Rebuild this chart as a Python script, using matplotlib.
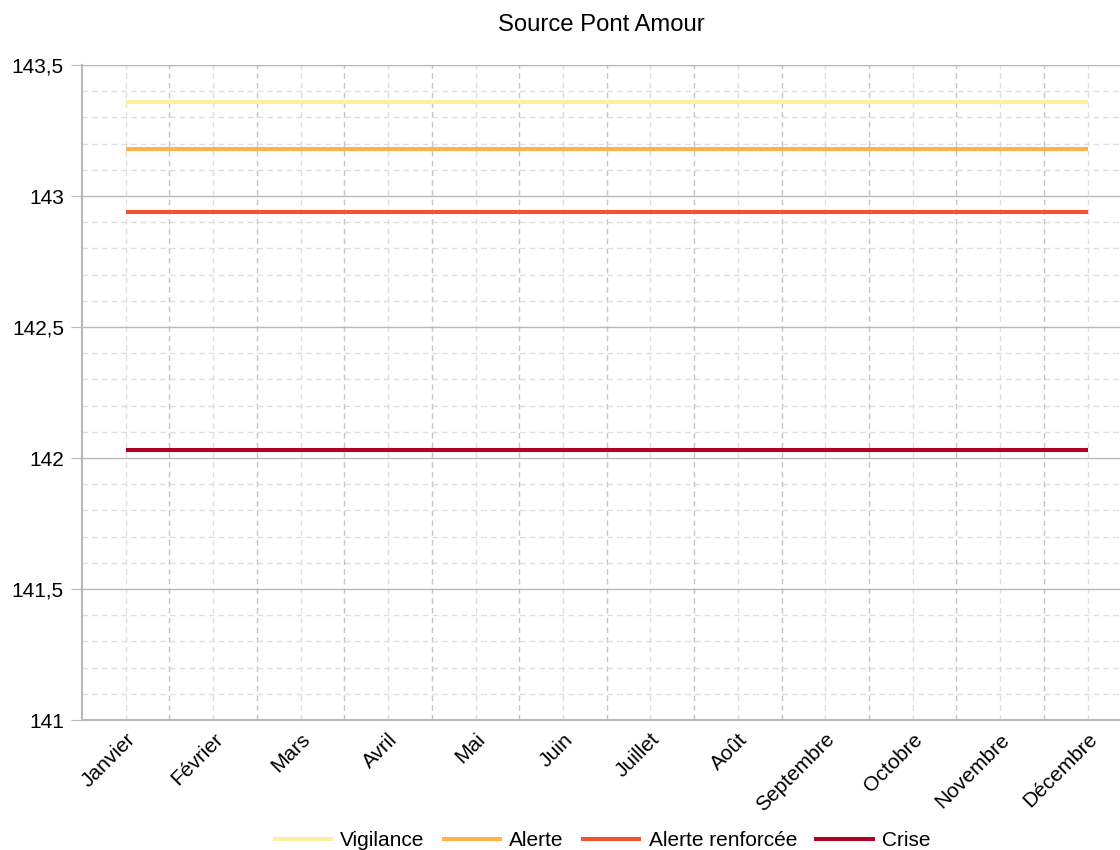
import matplotlib
matplotlib.use('Agg')
import matplotlib.pyplot as plt
from matplotlib.ticker import MultipleLocator, FuncFormatter, FixedLocator
import numpy as np

plt.rcParams['font.family'] = ['Liberation Sans', 'DejaVu Sans']

months = ["Janvier", "Février", "Mars", "Avril", "Mai", "Juin", "Juillet",
          "Août", "Septembre", "Octobre", "Novembre", "Décembre"]
series_names = ["Vigilance", "Alerte", "Alerte renforcée", "Crise"]
vigilance = [143.36] * 12
alerte = [143.18] * 12
alerte_renforcee = [142.94] * 12
crise = [142.03] * 12
colors = ["#FFEDA0", "#FEB24C", "#F4532F", "#B10026"]

fs = 15

fig = plt.figure(figsize=(11.2, 8.5), dpi=100)
ax = fig.add_axes([82/1120, 1 - 720/850, 1 - 82/1120, (720 - 65)/850])

x = np.arange(len(months))
for vals, name, c in zip([vigilance, alerte, alerte_renforcee, crise], series_names, colors):
    ax.plot(x, vals, color=c, lw=2.9, label=name, solid_capstyle='butt', zorder=3)

ax.set_xlim(-0.5, 11.37)
ax.set_ylim(141, 143.5)

# y grid: solid majors every 0.5, dashed minors every 0.1
ax.yaxis.set_major_locator(MultipleLocator(0.5))
ax.yaxis.set_minor_locator(MultipleLocator(0.1))
ax.yaxis.set_major_formatter(FuncFormatter(lambda v, p: ('%g' % v).replace('.', ',')))
ax.grid(axis='y', which='major', color='#b8b8b8', lw=1, ls='-')
ax.grid(axis='y', which='minor', color='#dedede', lw=1, ls=(0, (4, 3)))

# x: labels at categories, dashed lines at categories and between them
ax.set_xticks(x)
ax.set_xticklabels(months, rotation=45, ha='right', rotation_mode='anchor')
ax.xaxis.set_minor_locator(FixedLocator(x[:-1] + 0.5))
ax.grid(axis='x', which='major', color='#dedede', lw=1, ls=(0, (4, 3)))
ax.grid(axis='x', which='minor', color='#c4c4c4', lw=1, ls=(0, (4, 3)))
ax.set_axisbelow(True)

ax.tick_params(axis='x', which='both', length=0, pad=7, labelsize=fs)
ax.tick_params(axis='y', which='major', length=8, color='#b8b8b8', pad=5, labelsize=fs)
ax.tick_params(axis='y', which='minor', length=0)
for lbl in ax.get_xticklabels():
    lbl.set_x(lbl.get_position()[0])

ax.spines['right'].set_visible(False)
ax.spines['top'].set_color('#b8b8b8')
ax.spines['left'].set_color('#b8b8b8')
ax.spines['bottom'].set_color('#b8b8b8')
ax.spines['left'].set_linewidth(1.5)
ax.spines['bottom'].set_linewidth(1.5)

fig.text(0.537, 1 - 25/850, "Source Pont Amour", ha='center', va='center', fontsize=17.2)

fig.legend(loc='center', bbox_to_anchor=(0.537, 1 - 841/850), ncol=4, frameon=False,
           fontsize=fs, handlelength=2.9, columnspacing=0.82, handletextpad=0.35)

plt.savefig('out.png', dpi=100)
